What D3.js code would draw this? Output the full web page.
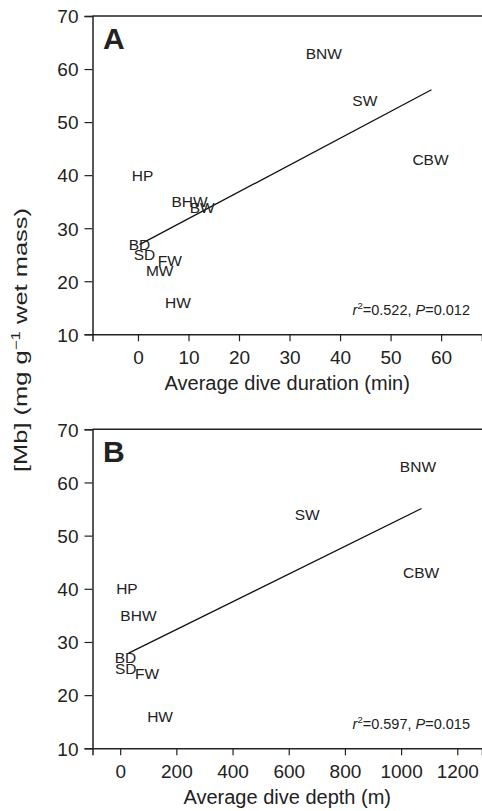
<!DOCTYPE html>
<html>
<head>
<meta charset="utf-8">
<script src="https://cdn.jsdelivr.net/npm/d3@7"></script>
<style>
  html, body { margin: 0; padding: 0; background: #fff; }
  svg { display: block; }
  text { font-family: "Liberation Sans", Arial, Helvetica, sans-serif; fill: #222; }
</style>
</head>
<body>
<svg id="chart" width="482" height="811"></svg>
<script>
// Panel A: myoglobin concentration vs average dive duration
const speciesA  = ["BNW", "SW", "CBW", "HP", "BHW", "BW", "BD", "SD", "FW", "MW", "HW"];
const durationA = [36.8, 44.9, 57.9, 0.9, 10.2, 12.7, 0.3, 1.3, 6.3, 4.3, 7.9];
const mbA       = [63, 54, 43, 40, 35, 34, 27, 25, 24, 22, 16];
const fitA_x    = [0.3, 58.1];
const fitA_y    = [26.9, 56.1];
const ticksA_x  = [0, 10, 20, 30, 40, 50, 60];

// Panel B: myoglobin concentration vs average dive depth
const speciesB  = ["BNW", "SW", "CBW", "HP", "BHW", "BD", "SD", "FW", "HW"];
const depthB    = [1060, 666, 1071, 24, 65, 19, 20, 96, 142];
const mbB       = [63, 54, 43, 40, 35, 27, 25, 24, 16];
const fitB_x    = [30, 1073];
const fitB_y    = [27.9, 55.1];
const ticksB_x  = [0, 200, 400, 600, 800, 1000, 1200];

const ticksY = [10, 20, 30, 40, 50, 60, 70];

const svg = d3.select("#chart");
const W = 482;
const left = 92.5;
const axisColor = "#222";

function panel(cfg) {
  const g = svg.append("g");
  const x = d3.scaleLinear().domain(cfg.xDomain).range([left, W]);
  const y = d3.scaleLinear().domain([10, 70]).range([cfg.bottom, cfg.top]);

  // frame: top rule
  g.append("line")
    .attr("x1", left).attr("x2", W)
    .attr("y1", y(70)).attr("y2", y(70))
    .attr("stroke", axisColor).attr("stroke-width", 1.5);

  // y axis
  const yAxis = g.append("g")
    .attr("transform", `translate(${left},0)`)
    .call(d3.axisLeft(y).tickValues(ticksY).tickSize(8).tickPadding(6).tickFormat(d3.format("d")));
  // x axis
  const xAxis = g.append("g")
    .attr("transform", `translate(0,${cfg.bottom})`)
    .call(d3.axisBottom(x).tickValues(cfg.xTicks).tickSize(7).tickPadding(9).tickFormat(d3.format("d")));

  [yAxis, xAxis].forEach(a => {
    a.select(".domain").attr("stroke", axisColor).attr("stroke-width", 1.5);
    a.selectAll(".tick line").attr("stroke", axisColor).attr("stroke-width", 1.2);
    a.selectAll(".tick text")
      .attr("font-size", 19)
      .style("font-family", "'Liberation Sans', Arial, sans-serif")
      .attr("fill", "#222");
  });
  yAxis.selectAll(".tick text").attr("dy", "0.36em");

  // x axis title
  g.append("text")
    .attr("x", (left + W) / 2)
    .attr("y", cfg.bottom + 56)
    .attr("text-anchor", "middle")
    .attr("font-size", 20)
    .text(cfg.xTitle);

  // panel letter
  g.append("text")
    .attr("x", left + 10.5)
    .attr("y", cfg.top + 33)
    .attr("font-size", 30)
    .attr("font-weight", "bold")
    .text(cfg.letter);

  // regression line
  const line = d3.line().x(d => x(d[0])).y(d => y(d[1]));
  g.append("path")
    .datum(d3.zip(cfg.fitX, cfg.fitY))
    .attr("d", line)
    .attr("fill", "none")
    .attr("stroke", "#111")
    .attr("stroke-width", 1.3);

  // species abbreviations at the data points
  g.selectAll("text.sp")
    .data(d3.range(cfg.names.length))
    .join("text")
    .attr("class", "sp")
    .attr("x", i => x(cfg.xs[i]))
    .attr("y", i => y(cfg.ys[i]))
    .attr("dy", "0.36em")
    .attr("text-anchor", "middle")
    .attr("font-size", 15.5)
    .attr("fill", "#2a2a2a")
    .text(i => cfg.names[i]);

  // statistics
  const st = g.append("text")
    .attr("x", 470)
    .attr("y", cfg.bottom - 19)
    .attr("text-anchor", "end")
    .attr("font-size", 14.5);
  st.append("tspan").attr("font-style", "italic").text("r");
  st.append("tspan").attr("font-size", 9.5).attr("dy", -6).text("2");
  st.append("tspan").attr("dy", 6).text("=" + cfg.r2 + ", ");
  st.append("tspan").attr("font-style", "italic").text("P");
  st.append("tspan").text("=" + cfg.p);
}

panel({
  top: 16, bottom: 334.3, xDomain: [-9, 68.1], xTicks: ticksA_x,
  names: speciesA, xs: durationA, ys: mbA, fitX: fitA_x, fitY: fitA_y,
  letter: "A", xTitle: "Average dive duration (min)", r2: "0.522", p: "0.012"
});

panel({
  top: 429.3, bottom: 748.3, xDomain: [-98.5, 1288], xTicks: ticksB_x,
  names: speciesB, xs: depthB, ys: mbB, fitX: fitB_x, fitY: fitB_y,
  letter: "B", xTitle: "Average dive depth (m)", r2: "0.597", p: "0.015"
});

// shared y axis title
const yt = svg.append("text")
  .attr("transform", "translate(27,340) rotate(-90)")
  .attr("text-anchor", "middle")
  .attr("font-size", 18)
  .attr("textLength", 264)
  .attr("lengthAdjust", "spacingAndGlyphs");
yt.append("tspan").text("[Mb] (mg g");
yt.append("tspan").attr("font-size", 12).attr("dy", -7).text("\u22121");
yt.append("tspan").attr("dy", 7).text(" wet mass)");
</script>
</body>
</html>
